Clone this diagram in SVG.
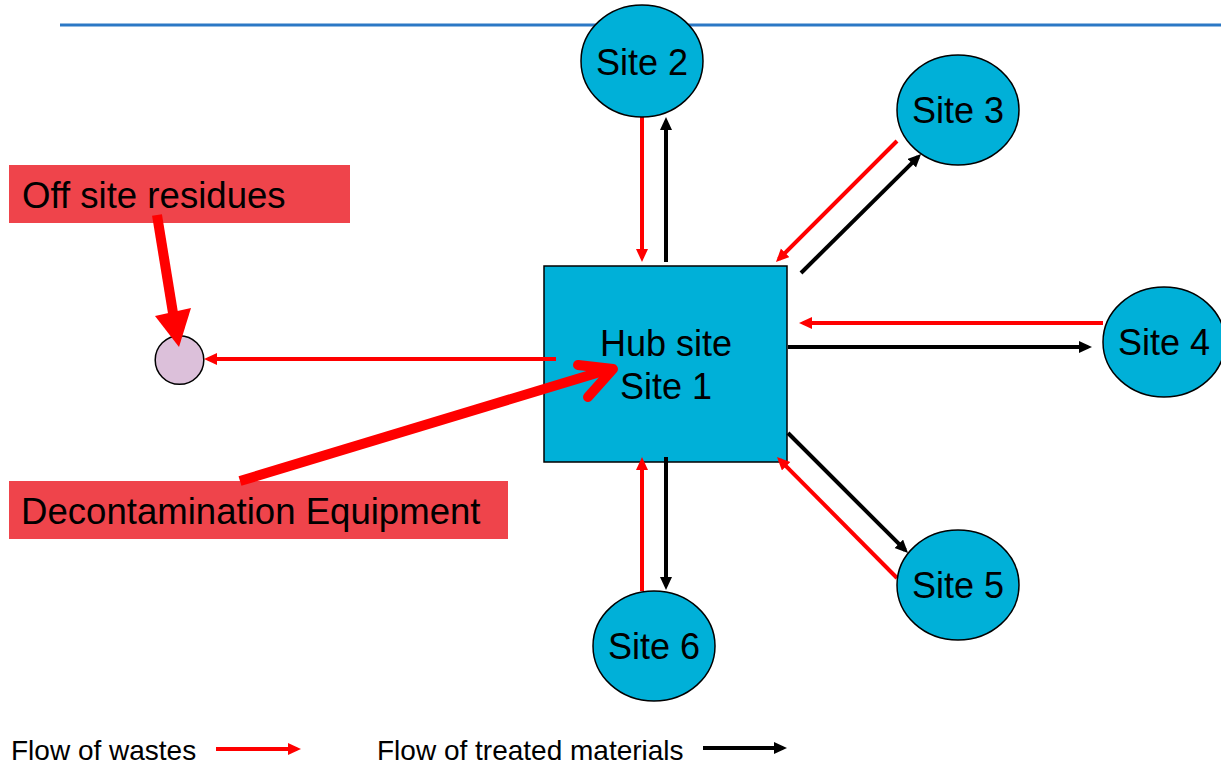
<svg xmlns="http://www.w3.org/2000/svg" width="1221" height="765" viewBox="0 0 1221 765">
<style>
  .site { fill: #00B0D8; stroke: #000; stroke-width: 1.5; }
  .lbl { font-family: "Liberation Sans", Arial, sans-serif; font-size: 36px; fill: #000; }
  .lbl-c { text-anchor: middle; }
  .big { font-size: 36.6px; }
  .leg { font-family: "Liberation Sans", Arial, sans-serif; font-size: 28px; fill: #000; }
  .red { stroke: #FF0000; stroke-width: 4; fill: none; marker-end: url(#ahR); }
  .blk { stroke: #000; stroke-width: 4; fill: none; marker-end: url(#ahK); }
  .callout { fill: #EF444B; }
</style>
<defs>
  <marker id="ahR" markerUnits="userSpaceOnUse" markerWidth="14" markerHeight="13" refX="9" refY="6" orient="auto">
    <path d="M0,0 L13,6 L0,12 z" fill="#FF0000"/>
  </marker>
  <marker id="ahK" markerUnits="userSpaceOnUse" markerWidth="14" markerHeight="13" refX="9" refY="6" orient="auto">
    <path d="M0,0 L13,6 L0,12 z" fill="#000"/>
  </marker>
</defs>

<line x1="60" y1="25" x2="1221" y2="25" stroke="#2B78C5" stroke-width="3"/>

<g id="hub">
  <rect class="site" x="544" y="266" width="243" height="196"/>
  <text class="lbl lbl-c" x="666" y="356">Hub site</text>
  <text class="lbl lbl-c" x="666" y="399">Site 1</text>
</g>

<g id="connectors">
  <line class="red" x1="642" y1="117" x2="642" y2="258"/>
  <line class="blk" x1="666" y1="262" x2="666" y2="121"/>
  <line class="red" x1="897" y1="141" x2="778.8" y2="259.2"/>
  <line class="blk" x1="801" y1="273" x2="918.2" y2="156.8"/>
  <line class="red" x1="1103" y1="323" x2="803" y2="323"/>
  <line class="blk" x1="788" y1="347" x2="1088" y2="347"/>
  <line class="blk" x1="788" y1="433" x2="905.2" y2="550.2"/>
  <line class="red" x1="897" y1="578" x2="779.8" y2="459.8"/>
  <line class="red" x1="642" y1="591" x2="642" y2="461"/>
  <line class="blk" x1="666" y1="457" x2="666" y2="586"/>
  <line class="red" x1="556" y1="359" x2="208" y2="359" stroke-width="3.5"/>
</g>

<g id="site2">
  <ellipse class="site" cx="642" cy="61" rx="61" ry="56"/>
  <text class="lbl lbl-c" x="642" y="75">Site 2</text>
</g>
<g id="site3">
  <ellipse class="site" cx="958" cy="110" rx="61" ry="55"/>
  <text class="lbl lbl-c" x="958" y="123">Site 3</text>
</g>
<g id="site4">
  <ellipse class="site" cx="1164" cy="342" rx="61" ry="55"/>
  <text class="lbl lbl-c" x="1164" y="355">Site 4</text>
</g>
<g id="site5">
  <ellipse class="site" cx="958" cy="585" rx="61" ry="55"/>
  <text class="lbl lbl-c" x="958" y="598">Site 5</text>
</g>
<g id="site6">
  <ellipse class="site" cx="654" cy="646" rx="61" ry="55"/>
  <text class="lbl lbl-c" x="654" y="659">Site 6</text>
</g>

<g id="residue-point">
  <circle cx="179.5" cy="360" r="24.3" fill="#DCC0DA" stroke="#000" stroke-width="1.5"/>
</g>

<g id="offsite">
  <rect class="callout" x="9" y="165" width="341" height="58"/>
  <text class="lbl big" x="22" y="208">Off site residues</text>
</g>
<g id="decon">
  <rect class="callout" x="9" y="481" width="499" height="58"/>
  <text class="lbl big" x="21" y="524">Decontamination Equipment</text>
</g>

<g id="callout-arrows">
  <line x1="157" y1="215" x2="173" y2="313" stroke="#FF0000" stroke-width="10"/>
  <polygon points="155,316 191,308 179,347" fill="#FF0000"/>
  <line x1="240" y1="481" x2="610" y2="369" stroke="#FF0000" stroke-width="10" stroke-linecap="butt"/>
  <polyline points="578,365 613,369 588,397" fill="none" stroke="#FF0000" stroke-width="10" stroke-linecap="round" stroke-linejoin="round"/>
</g>

<g id="legend">
  <text class="leg" x="11" y="760">Flow of wastes</text>
  <line class="red" x1="216" y1="749" x2="297" y2="749" stroke-width="3"/>
  <text class="leg" x="377" y="760">Flow of treated materials</text>
  <line class="blk" x1="703" y1="748" x2="783" y2="748" stroke-width="3"/>
</g>
</svg>
